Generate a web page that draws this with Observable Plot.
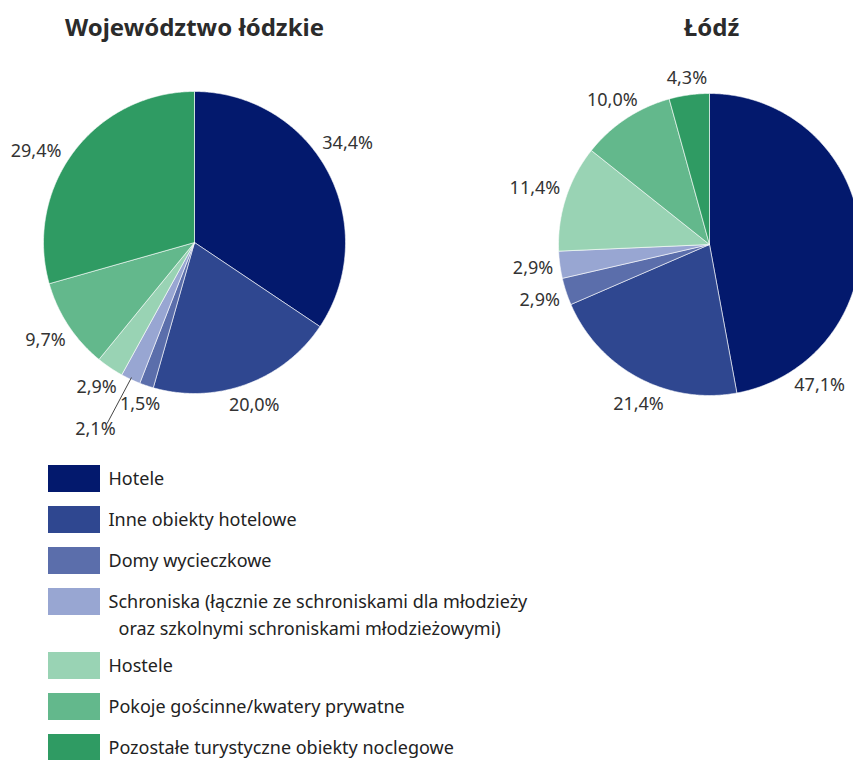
<!DOCTYPE html>
<html>
<head>
<meta charset="utf-8">
<script src="https://cdn.jsdelivr.net/npm/d3@7"></script>
<script src="https://cdn.jsdelivr.net/npm/@observablehq/plot@0.6"></script>
<style>
  html, body { margin: 0; padding: 0; background: #fff; overflow: hidden; }
</style>
</head>
<body>
<div id="chart"></div>
<script>
// ---- data ----
const categories = [
  "Hotele",
  "Inne obiekty hotelowe",
  "Domy wycieczkowe",
  "Schroniska (łącznie ze schroniskami dla młodzieży\noraz szkolnymi schroniskami młodzieżowymi)",
  "Hostele",
  "Pokoje gościnne/kwatery prywatne",
  "Pozostałe turystyczne obiekty noclegowe"
];
const colors = ["#03196d", "#2f4790", "#5b6eab", "#98a6d2", "#99d3b4", "#63b88c", "#2f9b63"];
const regions = ["Województwo łódzkie", "Łódź"];
const wojewodztwoValues = [34.4, 20.0, 1.5, 2.1, 2.9, 9.7, 29.4];
const lodzValues = [47.1, 21.4, 2.9, 2.9, 11.4, 10.0, 4.3];

// ---- layout (not data) ----
const W = 853, H = 760;
const FONT = "'Noto Sans', 'DejaVu Sans', sans-serif";
const labelSize = 18, legendSize = 18, titleSize = 24;
const pieLayout = [
  {cx: 194, cy: 242, r: 151, titleX: 194},
  {cx: 709, cy: 244, r: 151, titleX: 711}
];
const titleY = 28;
// label placement overrides: angle in degrees (clockwise from top), radius in px
const labelOverrides = {
  "0-0": {angle: 57},
  "0-6": {angle: 300},
  "1-0": {angle: 142},
  "1-1": {angle: 204},
  "1-5": {angle: 326, gap: 2},
  "0-3": {angle: 208, radius: 211, leader: {angle: 205, to: 200}}
};
const legendLayout = {x1: 48, x2: 100, textX: 108, contX: 118, firstY: 478.5, step: 41, extraLine: 23, swatchH: 27, lineH: 27};

const pies = [
  {name: regions[0], values: wojewodztwoValues},
  {name: regions[1], values: lodzValues}
];

const ctx = document.createElement("canvas").getContext("2d");
function textWidth(s, size) { ctx.font = `${size}px ${FONT}`; return ctx.measureText(s).width; }
const fmt = v => v.toFixed(1).replace(".", ",") + "%";
const rad = deg => deg * Math.PI / 180;

const slicePts = [], labelRows = [], leaderRows = [], titleRows = [];
pies.forEach((p, pi) => {
  const L = pieLayout[pi];
  titleRows.push({x: L.titleX, y: titleY, text: p.name});
  const arcs = d3.pie().sort(null).value(d => d)(p.values);
  arcs.forEach((a, i) => {
    const key = pi + "-" + i;
    const category = categories[i];
    slicePts.push({key, category, x: L.cx, y: L.cy});
    const n = Math.max(2, Math.ceil((a.endAngle - a.startAngle) / (Math.PI / 360)));
    for (let k = 0; k <= n; k++) {
      const t = a.startAngle + (a.endAngle - a.startAngle) * k / n;
      slicePts.push({key, category, x: L.cx + L.r * Math.sin(t), y: L.cy - L.r * Math.cos(t)});
    }
    slicePts.push({key, category, x: L.cx, y: L.cy});

    const text = fmt(p.values[i]);
    const ov = labelOverrides[key] || {};
    const theta = ov.angle != null ? rad(ov.angle) : (a.startAngle + a.endAngle) / 2;
    const hw = textWidth(text, labelSize) / 2, hh = 8;
    const gap = ov.gap != null ? ov.gap : 6;
    const dist = ov.radius != null ? ov.radius
      : L.r + gap + Math.abs(Math.sin(theta)) * hw + Math.abs(Math.cos(theta)) * hh;
    labelRows.push({x: L.cx + dist * Math.sin(theta), y: L.cy - dist * Math.cos(theta), text});
    if (ov.leader) {
      const t0 = (a.startAngle + a.endAngle) / 2, t1 = rad(ov.leader.angle);
      leaderRows.push({
        x1: L.cx + (L.r - 2) * Math.sin(t0), y1: L.cy - (L.r - 2) * Math.cos(t0),
        x2: L.cx + ov.leader.to * Math.sin(t1) - 3, y2: L.cy - ov.leader.to * Math.cos(t1)
      });
    }
  });
});

// legend
const legendRects = [], legendTexts = [];
let yc = legendLayout.firstY;
categories.forEach((c, i) => {
  const lines = c.split("\n");
  legendRects.push({category: c, x1: legendLayout.x1, x2: legendLayout.x2,
    y1: yc - legendLayout.swatchH / 2, y2: yc + legendLayout.swatchH / 2});
  lines.forEach((ln, k) => legendTexts.push({
    x: k === 0 ? legendLayout.textX : legendLayout.contX, y: yc + k * legendLayout.lineH, text: ln}));
  yc += legendLayout.step + legendLayout.extraLine * (lines.length - 1);
});

const chart = Plot.plot({
  width: W, height: H, margin: 0,
  x: {domain: [0, W], range: [0, W], axis: null},
  y: {domain: [0, H], range: [0, H], axis: null},
  color: {domain: categories, range: colors},
  style: {fontFamily: FONT, background: "#fff", overflow: "hidden"},
  marks: [
    Plot.line(slicePts, {x: "x", y: "y", z: "key", fill: "category", stroke: "#fff", strokeWidth: 0.7, strokeOpacity: 0.85}),
    Plot.link(leaderRows, {x1: "x1", y1: "y1", x2: "x2", y2: "y2", stroke: "#444", strokeWidth: 1}),
    Plot.text(labelRows, {x: "x", y: "y", text: "text", fontSize: labelSize, fill: "#333"}),
    Plot.text(titleRows, {x: "x", y: "y", text: "text", fontSize: titleSize, fontWeight: "bold", fill: "#2b2b2b"}),
    Plot.rect(legendRects, {x1: "x1", x2: "x2", y1: "y1", y2: "y2", fill: "category"}),
    Plot.text(legendTexts, {x: "x", y: "y", text: "text", textAnchor: "start", fontSize: legendSize, fill: "#222"})
  ]
});
document.getElementById("chart").appendChild(chart);
</script>
</body>
</html>
